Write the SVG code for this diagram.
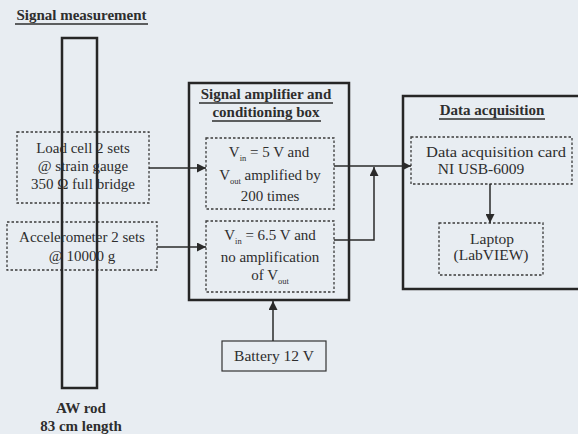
<svg xmlns="http://www.w3.org/2000/svg" width="578" height="434" viewBox="0 0 578 434">
<defs>
<marker id="ah" markerWidth="9" markerHeight="9" refX="9" refY="4.5" orient="auto" markerUnits="userSpaceOnUse">
<path d="M0,0 L9,4.5 L0,9 Z" fill="#2a2a2a"/>
</marker>
</defs>
<style>
text{font-family:"Liberation Serif","Times New Roman",serif;fill:#2e2e2e;font-size:15px;text-anchor:middle}
.b{font-weight:bold}
.d{font-size:15.5px}
.sub{font-size:8.5px}
.dash{fill:none;stroke:#3a3a3a;stroke-width:1.3;stroke-dasharray:2.5 2}
.thick{fill:none;stroke:#262626;stroke-width:2.5}
.thin{fill:none;stroke:#333;stroke-width:1.2}
.ul{stroke:#2e2e2e;stroke-width:1.3}
.con{fill:none;stroke:#2a2a2a;stroke-width:1.5}
</style>
<rect width="578" height="434" fill="#e8edf2"/>

<g id="signal-measurement">
<text class="b" x="81.5" y="20">Signal measurement</text>
<line class="ul" x1="15" y1="24" x2="148" y2="24"/>
</g>

<g id="load-cell">
<rect class="dash" x="17" y="132" width="132" height="71"/>
<text x="83" y="153">Load cell 2 sets</text>
<text x="83" y="171">@ strain gauge</text>
<text x="83" y="189">350 Ω full bridge</text>
</g>

<g id="accelerometer">
<rect class="dash" x="7" y="222" width="150" height="48"/>
<text x="82" y="242">Accelerometer 2 sets</text>
<text x="82" y="261">@ 10000 g</text>
</g>

<g id="aw-rod">
<rect class="thick" x="62" y="38" width="35" height="350" stroke-width="2.2"/>
<text class="b" x="81" y="413">AW rod</text>
<text class="b" x="81" y="431">83 cm length</text>
</g>

<g id="signal-amplifier">
<rect class="thick" x="189" y="83" width="160" height="217"/>
<text class="b" x="266" y="99">Signal amplifier and</text>
<line class="ul" x1="199" y1="103" x2="333" y2="103"/>
<text class="b" x="266" y="117">conditioning box</text>
<line class="ul" x1="212" y1="121" x2="321" y2="121"/>
</g>

<g id="amp-5v">
<rect class="dash" x="206" y="138" width="128" height="71"/>
<text x="269" y="157">V<tspan class="sub" dy="3.5">in</tspan><tspan dy="-3.5"> = 5 V and</tspan></text>
<text x="270" y="180">V<tspan class="sub" dy="3.5">out</tspan><tspan dy="-3.5"> amplified by</tspan></text>
<text x="270" y="201">200 times</text>
</g>

<g id="amp-6v5">
<rect class="dash" x="206" y="221" width="128" height="71"/>
<text x="270" y="240">V<tspan class="sub" dy="3.5">in</tspan><tspan dy="-3.5"> = 6.5 V and</tspan></text>
<text x="270" y="262">no amplification</text>
<text x="270" y="280">of V<tspan class="sub" dy="3.5">out</tspan></text>
</g>

<g id="battery">
<rect class="thin" x="222" y="341" width="104" height="30"/>
<text x="274" y="361" class="d">Battery 12 V</text>
</g>

<g id="data-acquisition">
<rect class="thick" x="403" y="96" width="190" height="193"/>
<text class="b" x="492" y="115">Data acquisition</text>
<line class="ul" x1="439" y1="119" x2="545" y2="119"/>
</g>

<g id="daq-card">
<rect class="dash" x="411" y="137" width="161" height="47"/>
<text x="496" y="157" class="d" textLength="140" lengthAdjust="spacingAndGlyphs">Data acquisition card</text>
<text x="481" y="174" class="d">NI USB-6009</text>
</g>

<g id="laptop">
<rect class="dash" x="439" y="223" width="104" height="52"/>
<text x="492" y="244" class="d">Laptop</text>
<text x="491" y="260" class="d">(LabVIEW)</text>
</g>

<g id="connectors">
<line class="con" x1="149" y1="168" x2="206" y2="168" marker-end="url(#ah)"/>
<line class="con" x1="157" y1="247" x2="206" y2="247" marker-end="url(#ah)"/>
<line class="con" x1="334" y1="166" x2="411" y2="166" marker-end="url(#ah)"/>
<polyline class="con" points="334,240 374,240 374,167" marker-end="url(#ah)"/>
<line class="con" x1="490" y1="184" x2="490" y2="223" marker-end="url(#ah)"/>
<line class="con" x1="273" y1="341" x2="273" y2="301" marker-end="url(#ah)"/>
</g>
</svg>
